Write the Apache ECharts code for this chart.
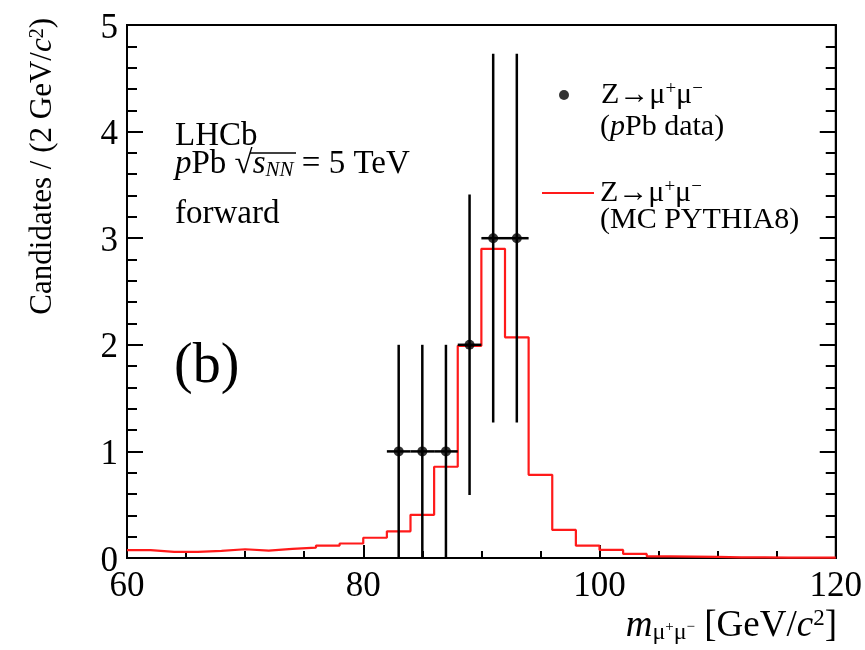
<!DOCTYPE html>
<html>
<head>
<meta charset="utf-8">
<script src="https://cdn.jsdelivr.net/npm/echarts@6/dist/echarts.min.js"></script>
<style>
  html, body { margin: 0; padding: 0; background: #fff; }
  #chart { width: 865px; height: 650px; }
</style>
</head>
<body>
<div id="chart"></div>
<script>
// MC histogram, 2 GeV bins from 60 to 120
const binLow = 60
const binWidth = 2
const mcCounts = [
  0.073, 0.057, 0.057, 0.066, 0.082, 0.07, 0.085, 0.098, 0.117, 0.136,
  0.19, 0.25, 0.405, 0.856, 1.99, 2.9, 2.07, 0.78, 0.263, 0.116,
  0.076, 0.038, 0.016, 0.013, 0.01, 0.006, 0.006, 0.003, 0.003, 0.003,
]

// pPb data points
const dataMass = [83, 85, 87, 89, 91, 93]
const dataCounts = [1, 1, 1, 2, 3, 3]
const dataErrY = [1, 1, 1, 1.41, 1.73, 1.73]
const dataErrX = [1, 1, 1, 1, 1, 1]

const serif = 'Liberation Serif, Times New Roman, serif'

// step line points: left edge of each bin, plus closing right edge
const mcPoints = mcCounts.map((v, i) => [binLow + i * binWidth, v])
mcPoints.push([binLow + mcCounts.length * binWidth, mcCounts[mcCounts.length - 1]])

const dataPoints = dataMass.map((m, i) => [m, dataCounts[i]])
const errPoints = dataMass.map((m, i) => [m, dataCounts[i], dataErrY[i], dataErrX[i]])

const chart = echarts.init(document.getElementById('chart'))

const tickLabel = { fontFamily: serif, fontSize: 35, color: '#000' }
const richBase = {
  r: { fontFamily: serif, fontSize: 30, color: '#000' },
  i: { fontFamily: serif, fontSize: 30, fontStyle: 'italic', color: '#000' },
  sup: { fontFamily: serif, fontSize: 19, color: '#000', verticalAlign: 'top', lineHeight: 19, padding: [0, 0, 10, 0] },
}

function renderErrorBar(params, api) {
  const x = api.value(0)
  const y = api.value(1)
  const ey = api.value(2)
  const ex = api.value(3)
  const top = api.coord([x, y + ey])
  const bot = api.coord([x, Math.max(y - ey, 0)])
  const left = api.coord([x - ex, y])
  const right = api.coord([x + ex, y])
  const style = { stroke: '#000', lineWidth: 2.5 }
  return {
    type: 'group',
    children: [
      { type: 'line', shape: { x1: top[0], y1: top[1], x2: bot[0], y2: bot[1] }, style },
      { type: 'line', shape: { x1: left[0], y1: left[1], x2: right[0], y2: right[1] }, style },
    ],
  }
}

const option = {
  animation: false,
  grid: {
    left: 127,
    right: 28,
    top: 25,
    bottom: 92,
    show: true,
    borderColor: '#000',
    borderWidth: 2,
  },
  legend: [
    {
      data: [{ name: 'data', icon: 'circle' }],
      left: 554,
      top: 75,
      itemWidth: 64,
      itemHeight: 10,
      selectedMode: false,
      formatter: () => '{r|Z→μ}{sup|+}{r|μ}{sup|−}',
      textStyle: { rich: richBase },
    },
    {
      data: [{ name: 'mc', icon: 'rect' }],
      left: 537,
      top: 173,
      itemWidth: 52,
      itemHeight: 2,
      selectedMode: false,
      formatter: () => '{r|Z→μ}{sup|+}{r|μ}{sup|−}',
      textStyle: { rich: richBase, padding: [0, 0, 0, 1] },
    },
  ],
  xAxis: [
    {
      type: 'value',
      min: 60,
      max: 120,
      interval: 20,
      axisLine: { lineStyle: { color: '#000', width: 2 } },
      axisTick: { inside: true, length: 13, lineStyle: { color: '#000', width: 2 } },
      minorTick: { show: true, splitNumber: 4, length: 7, lineStyle: { color: '#000', width: 2 } },
      splitLine: { show: false },
      axisLabel: { ...tickLabel, margin: 11 },
    },
  ],
  yAxis: [
    {
      type: 'value',
      min: 0,
      max: 5,
      interval: 1,
      axisLine: { show: true, lineStyle: { color: '#000', width: 2 } },
      axisTick: { show: true, inside: true, length: 16, lineStyle: { color: '#000', width: 2 } },
      minorTick: { show: true, splitNumber: 5, length: 10, lineStyle: { color: '#000', width: 2 } },
      splitLine: { show: false },
      axisLabel: { ...tickLabel, margin: 9, verticalAlign: 'top', lineHeight: 35, padding: [-14, 0, 0, 0] },
    },
    {
      type: 'value',
      position: 'right',
      min: 0,
      max: 5,
      interval: 1,
      axisLine: { show: true, lineStyle: { color: '#000', width: 2 } },
      axisTick: { show: true, inside: true, length: 16, lineStyle: { color: '#000', width: 2 } },
      minorTick: { show: true, splitNumber: 5, length: 10, lineStyle: { color: '#000', width: 2 } },
      splitLine: { show: false },
      axisLabel: { show: false },
    },
  ],
  series: [
    {
      name: 'mc',
      type: 'line',
      step: 'end',
      data: mcPoints,
      showSymbol: false,
      symbol: 'none',
      lineStyle: { color: '#ff1a1a', width: 2.2 },
      itemStyle: { color: '#ff1a1a' },
      z: 2,
    },
    {
      name: 'errors',
      type: 'custom',
      renderItem: renderErrorBar,
      data: errPoints,
      z: 3,
    },
    {
      name: 'data',
      type: 'scatter',
      data: dataPoints,
      symbol: 'circle',
      symbolSize: 10,
      itemStyle: { color: '#000' },
      z: 4,
    },
  ],
  graphic: [
    // legend second lines
    {
      type: 'text', left: 600, top: 112,
      style: { text: '{r|(}{i|p}{r|Pb data)}', rich: richBase },
    },
    {
      type: 'text', left: 600, top: 205,
      style: { text: '{r|(MC PYTHIA8)}', rich: richBase },
    },
    // LHCb labels
    {
      type: 'text', left: 175, top: 120,
      style: { text: 'LHCb', font: '33px ' + serif, fill: '#000' },
    },
    {
      type: 'text', left: 175, top: 148,
      style: {
        text: '{i|p}{r|Pb }{r|√}{i|s}{sub|NN}{r| = 5 TeV}',
        rich: {
          r: { fontFamily: serif, fontSize: 33, color: '#000' },
          i: { fontFamily: serif, fontSize: 33, fontStyle: 'italic', color: '#000' },
          sub: { fontFamily: serif, fontSize: 21, fontStyle: 'italic', color: '#000', verticalAlign: 'bottom', lineHeight: 21, padding: [7, 0, 0, 0] },
        },
      },
    },
    {
      type: 'line',
      shape: { x1: 250, y1: 153, x2: 296, y2: 153 },
      style: { stroke: '#000', lineWidth: 1.5 },
    },
    {
      type: 'text', left: 175, top: 198,
      style: { text: 'forward', font: '33px ' + serif, fill: '#000' },
    },
    {
      type: 'text', left: 174, top: 339,
      style: { text: '(b)', font: '56px ' + serif, fill: '#000' },
    },
    // y axis title
    {
      type: 'text', x: 43, y: 18, rotation: Math.PI / 2,
      style: {
        text: '{r|Candidates / (2 GeV/}{i|c}{sup|2}{r|)}',
        align: 'right',
        verticalAlign: 'middle',
        rich: {
          r: { fontFamily: serif, fontSize: 31, color: '#000' },
          i: { fontFamily: serif, fontSize: 31, fontStyle: 'italic', color: '#000' },
          sup: { fontFamily: serif, fontSize: 20, color: '#000', verticalAlign: 'top', lineHeight: 20, padding: [0, 0, 10, 0] },
        },
      },
    },
    // x axis title
    {
      type: 'text', x: 837, y: 626,
      style: {
        text: '{i|m}{sub|μ}{subsup|+}{sub|μ}{subsup|−}{r| [GeV/}{i|c}{sup|2}{r|]}',
        align: 'right',
        verticalAlign: 'middle',
        rich: {
          r: { fontFamily: serif, fontSize: 37, color: '#000' },
          i: { fontFamily: serif, fontSize: 37, fontStyle: 'italic', color: '#000' },
          sub: { fontFamily: serif, fontSize: 24, color: '#000', verticalAlign: 'bottom', lineHeight: 24, padding: [12, 0, 0, 0] },
          subsup: { fontFamily: serif, fontSize: 15, color: '#000', verticalAlign: 'bottom', lineHeight: 15, padding: [0, 0, 10, 0] },
          sup: { fontFamily: serif, fontSize: 23, color: '#000', verticalAlign: 'top', lineHeight: 23, padding: [0, 0, 12, 0] },
        },
      },
    },
  ],
}

chart.setOption(option)
</script>
</body>
</html>
